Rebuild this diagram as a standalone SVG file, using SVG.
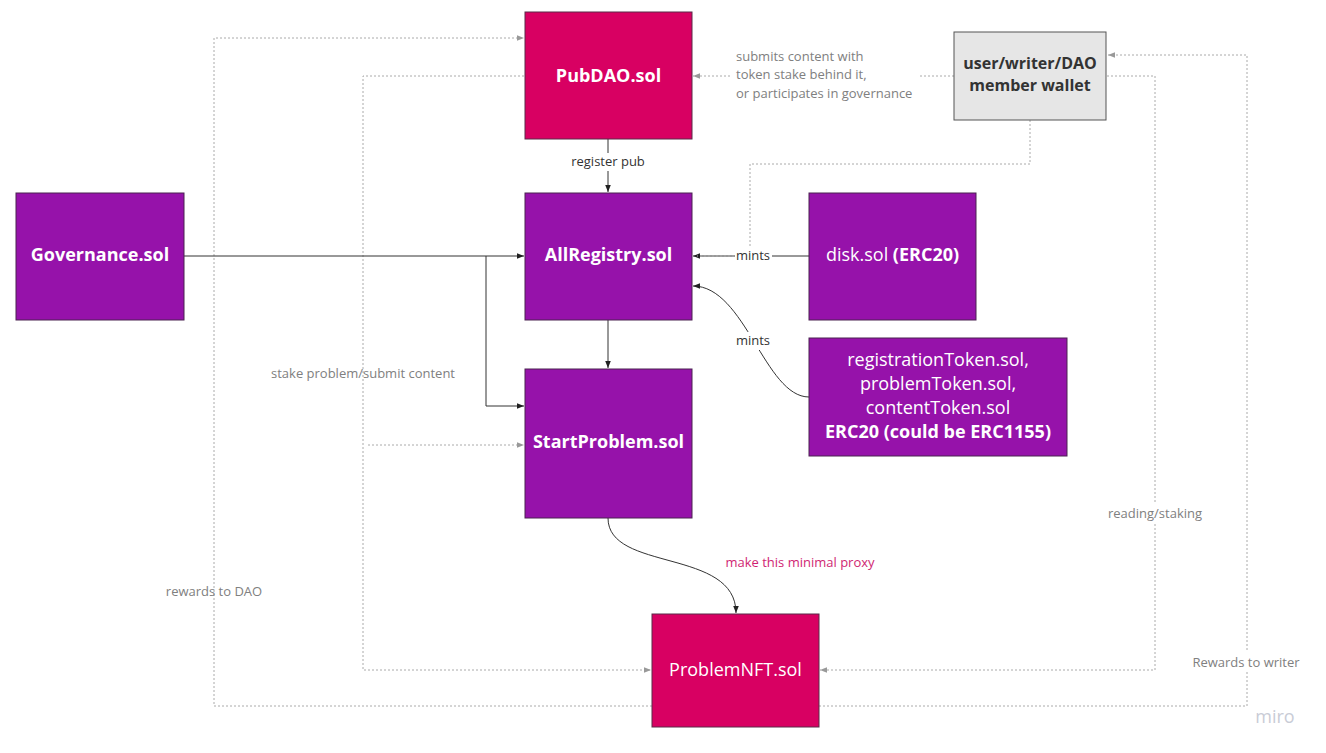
<svg xmlns="http://www.w3.org/2000/svg" width="1326" height="753" viewBox="0 0 1326 753">
<style>
  text { font-family: "Open Sans", "Liberation Sans", sans-serif; }
  .pink { fill: #d80062; stroke: #5a2a48; stroke-width: 1; }
  .purple { fill: #9612aa; stroke: #4a2350; stroke-width: 1; }
  .wallet { fill: #e6e6e6; stroke: #555555; stroke-width: 1; }
  .nt { fill: #ffffff; font-size: 18px; text-anchor: middle; dominant-baseline: central; }
  .b { font-weight: bold; }
  .wt { fill: #333333; font-size: 16px; font-weight: bold; text-anchor: middle; dominant-baseline: central; }
  .solid { fill: none; stroke: #333333; stroke-width: 1; }
  .dot { fill: none; stroke: #aaaaaa; stroke-width: 1; stroke-dasharray: 2 2; }
  .lbl { fill: #333333; font-size: 13px; text-anchor: middle; dominant-baseline: central; }
  .glbl { fill: #808080; font-size: 13px; text-anchor: middle; dominant-baseline: central; }
  .glbl-l { fill: #808080; font-size: 13px; dominant-baseline: central; }
  .plbl { fill: #d01f73; font-size: 13px; text-anchor: middle; dominant-baseline: central; }
</style>
<defs>
  <marker id="ad" viewBox="0 0 10 10" refX="10" refY="5" markerWidth="9" markerHeight="7" orient="auto" markerUnits="userSpaceOnUse">
    <path d="M0,1 L10,5 L0,9 z" fill="#222222"/>
  </marker>
  <marker id="ag" viewBox="0 0 10 10" refX="10" refY="5" markerWidth="9" markerHeight="7" orient="auto" markerUnits="userSpaceOnUse">
    <path d="M0,1 L10,5 L0,9 z" fill="#999999"/>
  </marker>
</defs>
<rect width="1326" height="753" fill="#ffffff"/>

<g id="connectors">
  <!-- rewards to DAO: ProblemNFT -> PubDAO -->
  <path class="dot" d="M652 706 H214 V38 H524" marker-end="url(#ag)"/>
  <text class="glbl" x="214" y="591">rewards to DAO</text>
  <!-- Rewards to writer: ProblemNFT -> wallet -->
  <path class="dot" d="M819 706 H1247 V55 H1108" marker-end="url(#ag)"/>
  <rect x="1190" y="652" width="114" height="20" fill="#ffffff"/>
  <text class="glbl" x="1246" y="662">Rewards to writer</text>
  <!-- stake problem/submit content: PubDAO -> ProblemNFT / StartProblem -->
  <path class="dot" d="M524 76 H363 V670 H651" marker-end="url(#ag)"/>
  <path class="dot" d="M368 445 H524" marker-end="url(#ag)"/>
  <text class="glbl" x="363" y="373">stake problem/submit content</text>
  <!-- reading/staking: wallet -> ProblemNFT -->
  <path class="dot" d="M1107 76 H1155 V670 H820" marker-end="url(#ag)"/>
  <rect x="1104" y="504" width="102" height="20" fill="#ffffff"/>
  <text class="glbl" x="1155" y="513">reading/staking</text>
  <!-- wallet -> PubDAO -->
  <path class="dot" d="M954 76 H693" marker-end="url(#ag)"/>
  <rect x="732" y="45" width="186" height="60" fill="#ffffff"/>
  <text class="glbl-l" x="736" y="56">submits content with</text>
  <text class="glbl-l" x="736" y="74">token stake behind it,</text>
  <text class="glbl-l" x="736" y="93">or participates in governance</text>
  <!-- PubDAO -> AllRegistry -->
  <path class="solid" d="M608 139 V192" marker-end="url(#ad)"/>
  <rect x="568" y="153" width="80" height="18" fill="#ffffff"/>
  <text class="lbl" x="608" y="161">register pub</text>
  <!-- AllRegistry -> StartProblem -->
  <path class="solid" d="M608 320 V368" marker-end="url(#ad)"/>
  <!-- Governance -> AllRegistry / StartProblem -->
  <path class="solid" d="M184 256 H524" marker-end="url(#ad)"/>
  <path class="solid" d="M486 256 V406 H524" marker-end="url(#ad)"/>
  <!-- disk.sol -> AllRegistry -->
  <path class="solid" d="M809 256 H693" marker-end="url(#ad)"/>
  <!-- wallet -> AllRegistry (dotted) -->
  <path class="dot" d="M1030 120 V164 H750 V256 H697"/>
  <rect x="735" y="247" width="37" height="18" fill="#ffffff"/>
  <text class="lbl" x="753" y="255">mints</text>
  <!-- registration tokens -> AllRegistry -->
  <path class="solid" d="M809 397 C765 397 745 286 693 286" marker-end="url(#ad)"/>
  <rect x="735" y="332" width="37" height="18" fill="#ffffff"/>
  <text class="lbl" x="753" y="340">mints</text>
  <!-- StartProblem -> ProblemNFT -->
  <path class="solid" d="M608 518 C608 572 736 548 736 613" marker-end="url(#ad)"/>
  <text class="plbl" x="800" y="562">make this minimal proxy</text>
</g>

<g id="PubDAO">
  <rect class="pink" x="525" y="12" width="167" height="127"/>
  <text class="nt b" x="608.5" y="75">PubDAO.sol</text>
</g>
<g id="wallet">
  <rect class="wallet" x="954" y="32" width="152" height="88"/>
  <text class="wt" x="1030" y="63">user/writer/DAO</text>
  <text class="wt" x="1030" y="85">member wallet</text>
</g>
<g id="Governance">
  <rect class="purple" x="16" y="193" width="168" height="127"/>
  <text class="nt b" x="100" y="254">Governance.sol</text>
</g>
<g id="AllRegistry">
  <rect class="purple" x="525" y="193" width="167" height="127"/>
  <text class="nt b" x="608.5" y="254">AllRegistry.sol</text>
</g>
<g id="disk">
  <rect class="purple" x="809" y="193" width="167" height="127"/>
  <text class="nt" x="892.5" y="254">disk.sol <tspan class="b">(ERC20)</tspan></text>
</g>
<g id="tokens">
  <rect class="purple" x="809" y="338" width="258" height="118"/>
  <text class="nt" x="938" y="359">registrationToken.sol,</text>
  <text class="nt" x="938" y="383">problemToken.sol,</text>
  <text class="nt" x="938" y="407">contentToken.sol</text>
  <text class="nt b" x="938" y="431">ERC20 (could be ERC1155)</text>
</g>
<g id="StartProblem">
  <rect class="purple" x="525" y="369" width="167" height="149"/>
  <text class="nt b" x="608.5" y="441">StartProblem.sol</text>
</g>
<g id="ProblemNFT">
  <rect class="pink" x="652" y="614" width="167" height="113"/>
  <text class="nt" x="735.5" y="669">ProblemNFT.sol</text>
</g>
<text x="1275" y="716" font-size="18" fill="#c9ccd6" text-anchor="middle" dominant-baseline="central" style="font-family: 'Open Sans', 'Liberation Sans', sans-serif;">miro</text>
</svg>
